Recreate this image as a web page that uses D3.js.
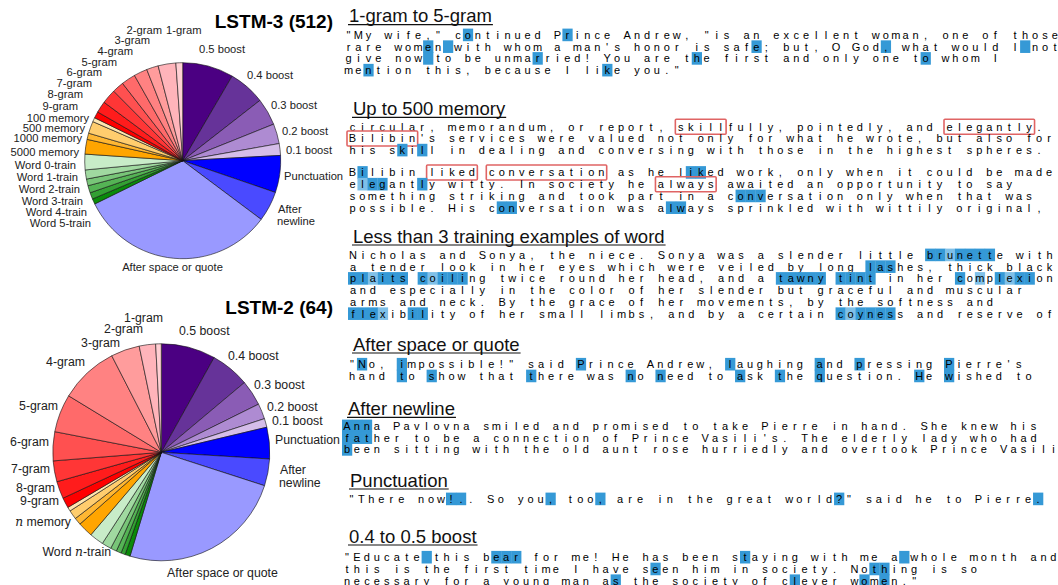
<!DOCTYPE html>
<html>
<head>
<meta charset="utf-8">
<script src="https://cdn.jsdelivr.net/npm/d3@7"></script>
<style>
  body { margin: 0; background: #fff; }
  text { font-family: "Liberation Sans", Arial, sans-serif; }
</style>
</head>
<body>
<svg id="chart" width="1058" height="585"></svg>
<script>
// slice categories, clockwise from 12 o'clock
const categories = ['0.5 boost', '0.4 boost', '0.3 boost', '0.2 boost', '0.1 boost',
  'Punctuation', 'After newline', 'After space or quote',
  'Word 5-train', 'Word 4-train', 'Word 3-train', 'Word 2-train', 'Word 1-train', 'Word 0-train',
  '5000 memory', '1000 memory', '500 memory', '100 memory',
  '9-gram', '8-gram', '7-gram', '6-gram', '5-gram', '4-gram', '3-gram', '2-gram', '1-gram'];

// share of cells (%)
const lstm3Values = [8.42, 6.03, 4.47, 3.28, 1.94, 6.11, 4.97, 32.5,
  0.89, 1.08, 1.19, 1.11, 1.5, 2.58,
  2.42, 1.03, 2.0, 0.69,
  1.06, 1.89, 2.39, 1.92, 2.33, 2.22, 1.94, 2.92, 1.11];
const lstm2Values = [8.1, 5.8, 3.8, 2.3, 1.3, 4.7, 4.0, 24.7,
  0.75, 0.64, 0.75, 0.92, 1.42, 2.11,
  2.25, 1.06, 1.36, 0.61,
  1.53, 2.58, 3.11, 4.31, 5.67, 8.75, 4.28, 2.44, 0.83];

const sliceColors = ['#4b0082', '#663399', '#8a5cb5', '#ae8bd2', '#d5bde9',
  '#0000ff', '#4a4aff', '#9999ff',
  '#0a8a0a', '#33a033', '#55b355', '#78c578', '#a0d9a0', '#c8ecc8',
  '#ffa500', '#ffb733', '#ffcd6e', '#ffe6b0',
  '#ff0000', '#ff1c1c', '#ff3636', '#ff5050', '#ff6a6a', '#ff8282', '#ff9c9c', '#ffb4ba', '#ffcfd3'];

// label text and placement relative to pie centre [text, dx, dy, anchor]
const lstm3Labels = [
  ['2-gram', -20.7, -130.4, 'end'], ['1-gram', -16.7, -130.4, 'start'],
  ['3-gram', -32.7, -120.4, 'end'], ['4-gram', -49.7, -110, 'end'],
  ['5-gram', -65.7, -99, 'end'], ['6-gram', -80.7, -89, 'end'],
  ['7-gram', -90.7, -78, 'end'], ['8-gram', -99.7, -66.4, 'end'],
  ['9-gram', -104.7, -54.7, 'end'], ['100 memory', -93.7, -42.7, 'end'],
  ['500 memory', -97.7, -32.4, 'end'], ['1000 memory', -100.7, -22.4, 'end'],
  ['5000 memory', -103.7, -9, 'end'], ['Word 0-train', -106.7, 4.3, 'end'],
  ['Word 1-train', -104.7, 16, 'end'], ['Word 2-train', -102.7, 28.3, 'end'],
  ['Word 3-train', -99.7, 40, 'end'], ['Word 4-train', -95.7, 51, 'end'],
  ['Word 5-train', -91.7, 62, 'end'],
  ['0.5 boost', 16.3, -111.4, 'start'], ['0.4 boost', 64.3, -85.7, 'start'],
  ['0.3 boost', 88.3, -55.7, 'start'], ['0.2 boost', 99.3, -30, 'start'],
  ['0.1 boost', 103.3, -10.7, 'start'], ['Punctuation', 101.3, 15.3, 'start'],
  ['After', 95.3, 48.3, 'start'], ['newline', 94.3, 60, 'start'],
  ['After space or quote', -10.2, 106.6, 'middle']];
const lstm2Labels = [
  ['1-gram', 1.7, -135, 'end'], ['2-gram', -18.3, -123.6, 'end'],
  ['3-gram', -41.3, -110, 'end'], ['4-gram', -76.3, -90.6, 'end'],
  ['5-gram', -103.3, -46.3, 'end'], ['6-gram', -112.3, -10.6, 'end'],
  ['7-gram', -111.3, 16.7, 'end'], ['8-gram', -106.3, 35, 'end'],
  ['9-gram', -102.3, 48.7, 'end'], ['$n$ memory', -90.3, 69.4, 'end'],
  ['Word $n$-train', -50.3, 99.4, 'end'],
  ['0.5 boost', 17.7, -121.6, 'start'], ['0.4 boost', 66.7, -96.3, 'start'],
  ['0.3 boost', 92.7, -68, 'start'], ['0.2 boost', 105.7, -45.6, 'start'],
  ['0.1 boost', 110.7, -31.3, 'start'], ['Punctuation', 113.7, -12.3, 'start'],
  ['After', 118.7, 17, 'start'], ['newline', 117.7, 30.4, 'start'],
  ['After space or quote', 61.2, 120.4, 'middle']];

// example passages: [x] highlighted, {x} weakly highlighted, <word> boxed in red
const headings = ['1-gram to 5-gram', 'Up to 500 memory', 'Less than 3 training examples of word',
  'After space or quote', 'After newline', 'Punctuation', '0.4 to 0.5 boost'];
const passages = [
  ['"My wife," c[o]ntinued P[r]ince Andrew, "is an excellent woman, one of those',
   'rare wom[e]n[ ]with whom a man\'s honor is saf[e]; but, O God[,] what would I[ ]not',
   'give now[ ]to be unma[r]ried! You are t[h]e first and only one t[o] whom I',
   'me[n]tion this, because I li[k]e you."'],
  ['circular, memorandum, or report, <skill>fully, pointedly, and <elegantly>.',
   '<Bilibin>\'s services were valued not only for what he wrote, but also for',
   'his s[k]i[l]l in dealing and conversing with those in the highest spheres.',
   '',
   'B[i]libin <liked> <conversation> as he l[ik]ed work, only when it could be made',
   'e{l}[eg]ant[l]y witty. In society he <always> awaited an opportunity to say',
   'something striking and took part in a c[onv]ersation only when that was',
   'possible. His c[on]versation was a[lw]ays sprinkled with wittily original,'],
  ['Nicholas and Sonya, the niece. Sonya was a slender little [br]{u}[nett]e with',
   'a tender look in her eyes which were veiled by long [las]hes, thick black',
   '[pl]{a}[its] [c]{o}[ili]ng twice round her head, and a [tawny] [tint] in her [c]o{m}p[l]{e}[xi]on',
   'and especially in the color of her slender but graceful and muscular',
   'arms and neck. By the grace of her movements, by the softness and',
   '[fle]{x}ib[il]ity of her small limbs, and by a certain [c]{o}[ynes]s and reserve of'],
  ['"[N]o, [i]mpossible!" said [P]rince Andrew, [l]aughing [a]nd [p]ressing [P]ierre\'s',
   'hand [t]o [s]how that [t]here was [n]o [n]eed to [a]sk [t]he [q]uestion. [H]e [w]ished to'],
  ['[Ann]a Pavlovna smiled and promised to take Pierre in hand. She knew his',
   '[fat]her to be a connection of Prince Vasili\'s. The elderly lady who had',
   '[b]een sitting with the old aunt rose hurriedly and overtook Prince Vasili'],
  ['"There now[!.]. So you[,] too[,] are in the great world[?]" said he to Pierre[.]'],
  ['"Educate[ ]this b[ear] for me! He has been s[t]aying with me a[ ]whole month and',
   'this is the first time I have s[e]en him in society. No[th]ing is so',
   'necessary for a young man a[s] the society of c[l]ever w[o]m[e]n."']];

// panel layout
const headingX = [349, 353, 353, 353, 348, 350, 349];
const headingY = [15.7, 108.3, 236, 344, 408.3, 480, 536];
const textX0 = [343.5, 347.5, 348, 347, 342, 346.5, 342];
const firstLineY = [35, 126.7, 255, 364.3, 426, 499, 557.3];
const cellW = 9.95, lineH = 11.75;

const svg = d3.select('#chart');

function drawPie(cx, cy, r, values, title, labels, fs) {
  const g = svg.append('g').attr('transform', `translate(${cx},${cy})`);
  const arcs = d3.pie().sort(null).value(d => d)(values);
  const arc = d3.arc().innerRadius(0).outerRadius(r);
  g.selectAll('path').data(arcs).join('path')
    .attr('d', arc)
    .attr('fill', (d, i) => sliceColors[i])
    .attr('stroke', '#111')
    .attr('stroke-width', 0.6)
    .attr('stroke-linejoin', 'round');

  const lab = g.selectAll('text.lab').data(labels).join('text')
    .attr('class', 'lab')
    .attr('x', d => d[1]).attr('y', d => d[2]).attr('dy', '0.35em')
    .attr('text-anchor', d => d[3])
    .attr('font-size', fs).attr('fill', '#222');
  lab.each(function(d) {
    const parts = d[0].split('$');
    parts.forEach((p, k) => {
      if (!p) return;
      const t = d3.select(this).append('tspan').text(p);
      if (k % 2 == 1) t.attr('font-family', '"DejaVu Serif", serif').attr('font-style', 'italic');
    });
  });

  svg.append('text')
    .attr('x', 333).attr('y', title[1])
    .attr('text-anchor', 'end')
    .attr('font-size', 19).attr('font-weight', 'bold').attr('fill', '#000')
    .text(title[0]);
}

drawPie(182.7, 160.7, 98, lstm3Values, ['LSTM-3 (512)', 27.5], lstm3Labels, 11.2);
drawPie(161.3, 452.3, 108.5, lstm2Values, ['LSTM-2 (64)', 313.5], lstm2Labels, 12.3);

function parseLine(s) {
  const chars = [], marks = [], boxes = [];
  let mode = 0, boxStart = -1;
  for (const c of s) {
    if (c == '[') mode = 2;
    else if (c == '{') mode = 1;
    else if (c == ']' || c == '}') mode = 0;
    else if (c == '<') boxStart = chars.length;
    else if (c == '>') boxes.push([boxStart, chars.length]);
    else { chars.push(c); marks.push(mode); }
  }
  return {chars, marks, boxes};
}

const panel = svg.append('g');
headings.forEach((h, b) => {
  const ht = panel.append('text')
    .attr('x', headingX[b]).attr('y', headingY[b]).attr('dy', '0.36em')
    .attr('font-size', 18.5).attr('fill', '#111')
    .text(h);
  const w = ht.node().getComputedTextLength();
  panel.append('line')
    .attr('x1', headingX[b] - 1).attr('x2', headingX[b] + w + 1)
    .attr('y1', headingY[b] + 9).attr('y2', headingY[b] + 9)
    .attr('stroke', '#111').attr('stroke-width', 1.2);

  let y = firstLineY[b];
  passages[b].forEach(line => {
    if (line === '') { y += lineH * 0.9; return; }
    const p = parseLine(line);
    const x0 = textX0[b];
    const cells = p.chars.map((c, i) => ({c, i, m: p.marks[i]}));
    panel.selectAll(null).data(cells.filter(d => d.m > 0)).join('rect')
      .attr('x', d => x0 + d.i * cellW).attr('y', y - 6.4)
      .attr('width', cellW + 0.3).attr('height', 12.6)
      .attr('fill', d => d.m == 2 ? '#3599d6' : '#7fc0e8');
    panel.selectAll(null).data(p.boxes).join('rect')
      .attr('x', d => x0 + d[0] * cellW - 0.5).attr('y', y - 7.5)
      .attr('width', d => (d[1] - d[0]) * cellW + 1).attr('height', 15)
      .attr('fill', 'none').attr('stroke', '#e06464').attr('stroke-width', 1.6).attr('rx', 1);
    panel.selectAll(null).data(cells.filter(d => d.c != ' ')).join('text')
      .attr('x', d => x0 + (d.i + 0.5) * cellW).attr('y', y).attr('dy', '0.36em')
      .attr('text-anchor', 'middle').attr('font-size', 11).attr('fill', '#000')
      .text(d => d.c);
    y += lineH;
  });
});
</script>
</body>
</html>
